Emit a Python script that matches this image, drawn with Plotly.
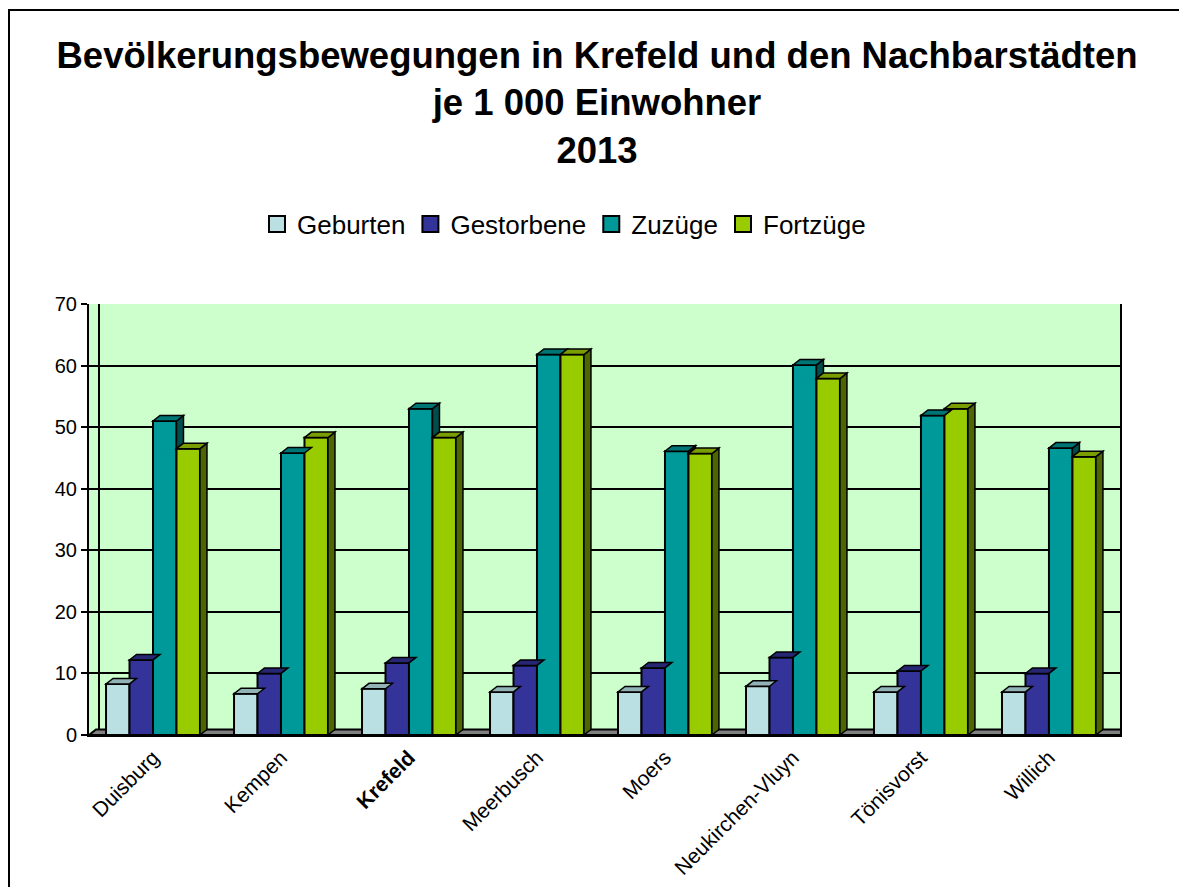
import plotly.graph_objects as go

# ---------------- data ----------------
cities = ["Duisburg", "Kempen", "Krefeld", "Meerbusch", "Moers",
          "Neukirchen-Vluyn", "Tönisvorst", "Willich"]
tick_labels = ["Duisburg", "Kempen", "<b>Krefeld</b>", "Meerbusch", "Moers",
               "Neukirchen-Vluyn", "Tönisvorst", "Willich"]
series_names = ["Geburten", "Gestorbene", "Zuzüge", "Fortzüge"]
geburten   = [8.3, 6.7, 7.5, 7.0, 7.0, 7.9, 7.0, 7.0]
gestorbene = [12.2, 10.0, 11.7, 11.3, 10.9, 12.6, 10.4, 10.0]
zuzuege    = [51.0, 45.8, 53.0, 61.8, 46.1, 60.1, 51.9, 46.6]
fortzuege  = [46.5, 48.3, 48.3, 61.8, 45.7, 57.9, 53.0, 45.2]
y_ticks = [0, 10, 20, 30, 40, 50, 60, 70]

# ---------------- style ----------------
front_colors = ["#BBE0E3", "#333399", "#009999", "#99CC00"]
top_colors   = ["#92B3B6", "#262673", "#007575", "#7A9E00"]
side_colors  = ["#5E7476", "#1A1A4D", "#004D4D", "#4D6600"]
FONT = "Liberation Sans, Arial, sans-serif"

PAGE = 8                                   # browser body margin
W, H = 1187 - 2 * PAGE, 895 - 2 * PAGE
L, R, T, B = 89 - PAGE, 1120 - PAGE, 304 - PAGE, 735 - PAGE   # plot area (figure px)
x_range = [-0.5, 7.555]
y_range = [0, 70]
bargap = 0.266
pw, ph = R - L, B - T
px_x = pw / (x_range[1] - x_range[0])
px_y = ph / (y_range[1] - y_range[0])
DX, DY = 7 / px_x, 5.5 / px_y             # 3-D depth in data units

values = [geburten, gestorbene, zuzuege, fortzuege]
xs = list(range(len(cities)))

fig = go.Figure()
for name, vals, col in zip(series_names, values, front_colors):
    fig.add_trace(go.Bar(
        x=xs, y=vals, name=name, showlegend=False, legendgroup=name,
        marker=dict(color=col, line=dict(color="black", width=2)),
        customdata=cities, hovertemplate="%{customdata}: %{y}<extra>" + name + "</extra>"))
# legend entries with large square swatches
for name, col in zip(series_names, front_colors):
    fig.add_trace(go.Scatter(
        x=[None], y=[None], mode="markers", name=name, legendgroup=name,
        marker=dict(symbol="square", size=17, color=col, line=dict(color="black", width=2))))

shapes = []
# floor
shapes.append(dict(type="path", xref="x", yref="y", layer="between",
                   path=f"M {x_range[0]},0 L {x_range[1]},0 L {x_range[1]+DX},{DY} L {x_range[0]+DX},{DY} Z",
                   fillcolor="#808080", line=dict(color="black", width=2)))

bw = (1 - bargap) / len(series_names)
for i in xs:
    for j, vals in enumerate(values):
        v = vals[i]
        x0 = i - (1 - bargap) / 2 + j * bw
        x1 = x0 + bw
        yb = values[j + 1][i] if j + 1 < len(values) else 0
        if v > yb:
            shapes.append(dict(type="path", xref="x", yref="y", layer="above",
                               path=f"M {x1},{yb} L {x1},{v} L {x1+DX},{v+DY} L {x1+DX},{yb+DY} Z",
                               fillcolor=side_colors[j], line=dict(color="black", width=1.5)))
        shapes.append(dict(type="path", xref="x", yref="y", layer="above",
                           path=f"M {x0},{v} L {x1},{v} L {x1+DX},{v+DY} L {x0+DX},{v+DY} Z",
                           fillcolor=top_colors[j], line=dict(color="black", width=1.5)))

# back-wall left edge
shapes.append(dict(type="line", xref="paper", yref="paper", layer="between",
                   x0=10 / pw, x1=10 / pw, y0=0, y1=1, line=dict(color="black", width=2)))
# outer chart border (the picture is a crop: only top and left edges show)
shapes.append(dict(type="rect", xref="paper", yref="paper",
                   x0=(9 - PAGE - L) / pw, x1=(W + 40 - L) / pw,
                   y0=(B - H - 40) / ph, y1=(B - (10 - PAGE)) / ph,
                   line=dict(color="black", width=2), fillcolor="rgba(0,0,0,0)"))

fig.update_layout(
    width=W, height=H,
    margin=dict(l=L, r=W - R, t=T, b=H - B, autoexpand=False),
    paper_bgcolor="white", plot_bgcolor="#CCFFCC",
    barmode="group", bargap=bargap, bargroupgap=0,
    font=dict(family=FONT, color="black"),
    title=dict(text="<b>Bevölkerungsbewegungen in Krefeld und den Nachbarstädten<br>je 1 000 Einwohner<br>2013</b>",
               x=(597 - PAGE) / W, xanchor="center", y=1 - (68 - PAGE) / H, yanchor="top",
               font=dict(size=36.5, family=FONT, color="black")),
    legend=dict(orientation="h", x=(564 - PAGE - L) / pw, xanchor="center",
                y=(B - (224 - PAGE)) / ph, yanchor="middle",
                font=dict(size=26, family=FONT), itemwidth=30, tracegroupgap=0),
    xaxis=dict(range=x_range, tickmode="array", tickvals=xs, ticktext=tick_labels,
               tickangle=-45, tickfont=dict(size=21), showgrid=False, zeroline=False,
               showline=True, linecolor="black", linewidth=2, ticks="", mirror=False),
    yaxis=dict(range=y_range, tickmode="array", tickvals=y_ticks, tickfont=dict(size=20),
               showgrid=True, gridcolor="black", gridwidth=2, zeroline=False,
               showline=True, linecolor="black", linewidth=2, ticks="outside",
               ticklen=6, tickcolor="black", tickwidth=2, mirror=True),
    shapes=shapes,
)

fig.write_html("out.html")
